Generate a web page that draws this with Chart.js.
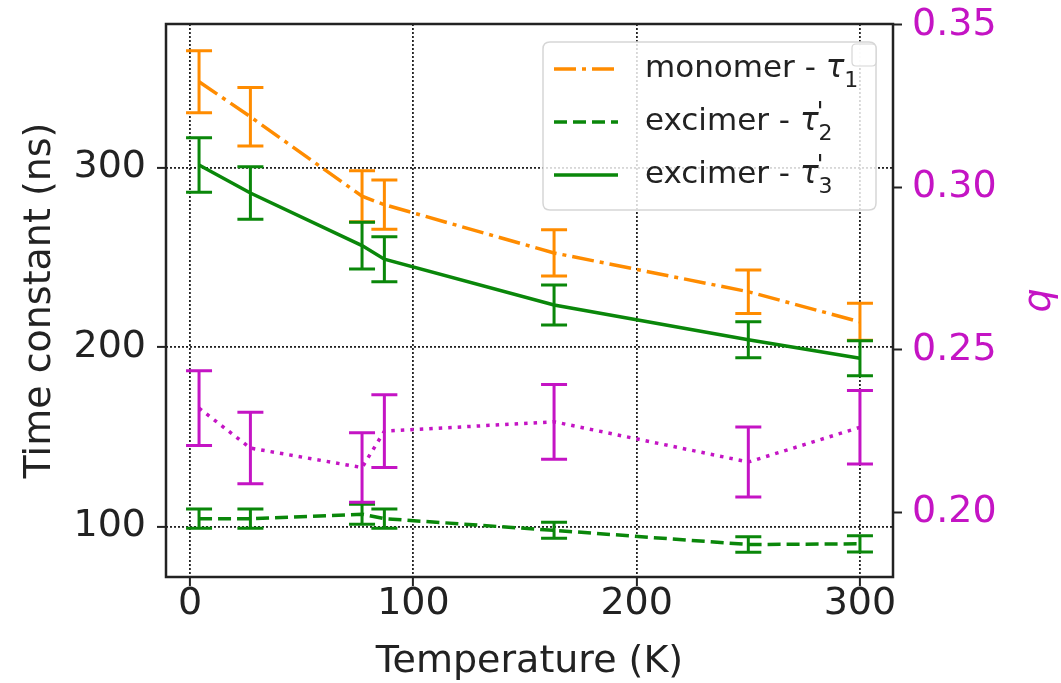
<!DOCTYPE html>
<html>
<head>
<meta charset="utf-8">
<script src="https://cdn.jsdelivr.net/npm/chart.js@4.4.0/dist/chart.umd.min.js"></script>
<style>
html, body { margin: 0; padding: 0; background: #fff; }
</style>
</head>
<body>
<canvas id="myChart" width="1061" height="683"></canvas>
<script>
// temperatures (K)
var temps = [4, 27, 77, 87, 163, 250, 300];
// monomer tau1 (ns)
var tau1 = [347.8, 328.3, 284.0, 279.3, 252.4, 230.8, 214.0];
var tau1Err = [17.3, 16.3, 14.2, 13.7, 12.9, 12.1, 10.3];
// excimer tau2' (ns)
var tau2 = [104.3, 104.3, 106.8, 104.3, 97.8, 89.9, 90.3];
var tau2Err = [5.35, 5.35, 5.55, 5.35, 4.45, 4.35, 4.5];
// excimer tau3' (ns)
var tau3 = [301.4, 285.8, 256.5, 248.9, 223.4, 204.0, 193.7];
var tau3Err = [15.2, 14.65, 13.05, 12.55, 11.15, 10.0, 9.8];
// q (right axis)
var qVals = [0.2320, 0.2197, 0.2137, 0.2249, 0.2278, 0.2154, 0.2261];
var qErr = [0.0115, 0.0110, 0.0107, 0.0112, 0.0115, 0.0108, 0.0113];

var xTicks = [0, 100, 200, 300];
var leftTicks = [100, 200, 300];
var rightTicks = [0.20, 0.25, 0.30, 0.35];

var legendNames = ['monomer - ', 'excimer - ', 'excimer - '];
var legendSubs = ['1', '2', '3'];
var legendPrime = [false, true, true];

var ORANGE = '#ff8c00';
var GREEN = '#0a870a';
var MAGENTA = '#c414c4';
var INK = '#222';

Chart.defaults.font.family = 'DejaVu Sans';
Chart.defaults.color = INK;

function pts(ys) {
	return temps.map(function (t, i) { return {x: t, y: ys[i]}; });
}

var errorBars = {
	id: 'errorBars',
	afterDatasetsDraw: function (chart) {
		var ctx = chart.ctx;
		var xs = chart.scales.x;
		chart.data.datasets.forEach(function (ds) {
			var ys = chart.scales[ds.yAxisID];
			ctx.save();
			ctx.strokeStyle = ds.borderColor;
			ctx.lineWidth = 3;
			ctx.setLineDash([]);
			ds.data.forEach(function (p, i) {
				var e = ds.errors[i];
				var px = xs.getPixelForValue(p.x);
				var y1 = ys.getPixelForValue(p.y + e);
				var y2 = ys.getPixelForValue(p.y - e);
				ctx.beginPath();
				ctx.moveTo(px, y1); ctx.lineTo(px, y2);
				ctx.moveTo(px - 13, y1); ctx.lineTo(px + 13, y1);
				ctx.moveTo(px - 13, y2); ctx.lineTo(px + 13, y2);
				ctx.stroke();
			});
			ctx.restore();
		});
	}
};

function roundRect(ctx, x, y, w, h, r) {
	ctx.beginPath();
	ctx.moveTo(x + r, y);
	ctx.lineTo(x + w - r, y); ctx.quadraticCurveTo(x + w, y, x + w, y + r);
	ctx.lineTo(x + w, y + h - r); ctx.quadraticCurveTo(x + w, y + h, x + w - r, y + h);
	ctx.lineTo(x + r, y + h); ctx.quadraticCurveTo(x, y + h, x, y + h - r);
	ctx.lineTo(x, y + r); ctx.quadraticCurveTo(x, y, x + r, y);
	ctx.closePath();
}

var frameAndLegend = {
	id: 'frameAndLegend',
	afterDraw: function (chart) {
		var ctx = chart.ctx;
		var a = chart.chartArea;
		ctx.save();
		// spines
		ctx.strokeStyle = INK;
		ctx.lineWidth = 2.5;
		ctx.setLineDash([]);
		ctx.strokeRect(a.left, a.top, a.right - a.left, a.bottom - a.top);

		// legend box
		roundRect(ctx, 543, 42, 333, 168, 7);
		ctx.fillStyle = 'rgba(255,255,255,0.82)';
		ctx.fill();
		ctx.strokeStyle = '#d6d6d6';
		ctx.lineWidth = 1.5;
		ctx.stroke();

		var dsets = chart.data.datasets;
		var rowY = [69, 122, 175];
		for (var i = 0; i < 3; i++) {
			var ds = dsets[i];
			var y = rowY[i];
			ctx.strokeStyle = ds.borderColor;
			ctx.lineWidth = ds.borderWidth;
			ctx.setLineDash(ds.borderDash || []);
			ctx.beginPath();
			ctx.moveTo(554, y); ctx.lineTo(618, y);
			ctx.stroke();
			ctx.setLineDash([]);

			ctx.fillStyle = INK;
			ctx.textBaseline = 'middle';
			ctx.textAlign = 'left';
			ctx.font = '31px "DejaVu Sans"';
			ctx.fillText(legendNames[i], 645, y);
			var tx = 645 + ctx.measureText(legendNames[i]).width;
			ctx.font = 'italic 31px "DejaVu Sans"';
			ctx.fillText('\u03c4', tx, y);
			tx += ctx.measureText('\u03c4').width;
			ctx.font = '22px "DejaVu Sans"';
			ctx.fillText(legendSubs[i], tx, y + 12);
			if (legendPrime[i]) {
				ctx.font = 'italic 26px "DejaVu Sans"';
				ctx.fillText('\'', tx - 2, y - 8);
			}
		}

		// empty legend box of the twin axis
		roundRect(ctx, 852, 44, 24, 22, 4);
		ctx.fillStyle = 'rgba(255,255,255,0.9)';
		ctx.fill();
		ctx.strokeStyle = '#d6d6d6';
		ctx.lineWidth = 1.2;
		ctx.stroke();

		// right axis title
		ctx.translate(1040, (a.top + a.bottom) / 2);
		ctx.rotate(-Math.PI / 2);
		ctx.fillStyle = MAGENTA;
		ctx.font = 'italic 38px "DejaVu Sans"';
		ctx.textAlign = 'center';
		ctx.textBaseline = 'middle';
		ctx.fillText('q', 0, 0);
		ctx.restore();
	}
};

function noPadV(s, w) {
	s.width = w;
	s.paddingTop = 0;
	s.paddingBottom = 0;
}

new Chart('myChart', {
	type: 'line',
	data: {
		datasets: [{
			label: 'monomer - tau1',
			data: pts(tau1),
			errors: tau1Err,
			yAxisID: 'y',
			borderColor: ORANGE,
			borderWidth: 3.5,
			borderDash: [22, 6, 4, 6],
			pointRadius: 0,
			fill: false,
			tension: 0
		}, {
			label: 'excimer - tau2',
			data: pts(tau2),
			errors: tau2Err,
			yAxisID: 'y',
			borderColor: GREEN,
			borderWidth: 3.5,
			borderDash: [13, 6],
			pointRadius: 0,
			fill: false,
			tension: 0
		}, {
			label: 'excimer - tau3',
			data: pts(tau3),
			errors: tau3Err,
			yAxisID: 'y',
			borderColor: GREEN,
			borderWidth: 3.5,
			pointRadius: 0,
			fill: false,
			tension: 0
		}, {
			label: 'q',
			data: pts(qVals),
			errors: qErr,
			yAxisID: 'y2',
			borderColor: MAGENTA,
			borderWidth: 3.5,
			borderDash: [3.5, 6],
			pointRadius: 0,
			fill: false,
			tension: 0
		}]
	},
	options: {
		responsive: false,
		animation: false,
		layout: {padding: {top: 24, left: 0, right: 0, bottom: 0}},
		plugins: {
			legend: {display: false},
			tooltip: {enabled: false}
		},
		scales: {
			x: {
				type: 'linear',
				position: 'bottom',
				min: -10.8,
				max: 314.8,
				afterBuildTicks: function (s) { s.ticks = xTicks.map(function (v) { return {value: v}; }); },
				afterFit: function (s) { s.height = 106; s.paddingLeft = 0; s.paddingRight = 0; },
				ticks: {font: {size: 38}, color: INK, padding: -5, maxRotation: 0, autoSkip: false},
				grid: {color: INK, lineWidth: 1.8, tickLength: 9, tickColor: INK, tickWidth: 2, tickBorderDash: []},
				border: {display: false, dash: [2, 2]},
				title: {display: true, text: 'Temperature (K)', font: {size: 38, lineHeight: 1}, color: INK, padding: {top: 0, bottom: 2}}
			},
			y: {
				type: 'linear',
				position: 'left',
				min: 71.8,
				max: 380,
				afterBuildTicks: function (s) { s.ticks = leftTicks.map(function (v) { return {value: v}; }); },
				afterFit: function (s) { noPadV(s, 166); },
				ticks: {font: {size: 38}, color: INK, padding: 11},
				grid: {color: INK, lineWidth: 1.8, tickLength: 9, tickColor: INK, tickWidth: 2, tickBorderDash: []},
				border: {display: false, dash: [2, 2]},
				title: {display: true, text: 'Time constant (ns)', font: {size: 38, lineHeight: 1}, color: INK, padding: {top: 21, bottom: 0}}
			},
			y2: {
				type: 'linear',
				position: 'right',
				min: 0.18,
				max: 0.3503,
				afterBuildTicks: function (s) { s.ticks = rightTicks.map(function (v) { return {value: v}; }); },
				afterFit: function (s) { noPadV(s, 168); },
				ticks: {
					font: {size: 38},
					color: MAGENTA,
					padding: 10,
					callback: function (v) { return v.toFixed(2); }
				},
				grid: {drawOnChartArea: false, tickLength: 9, tickColor: INK, tickWidth: 2, tickBorderDash: []},
				border: {display: false}
			}
		}
	},
	plugins: [errorBars, frameAndLegend]
});
</script>
</body>
</html>
